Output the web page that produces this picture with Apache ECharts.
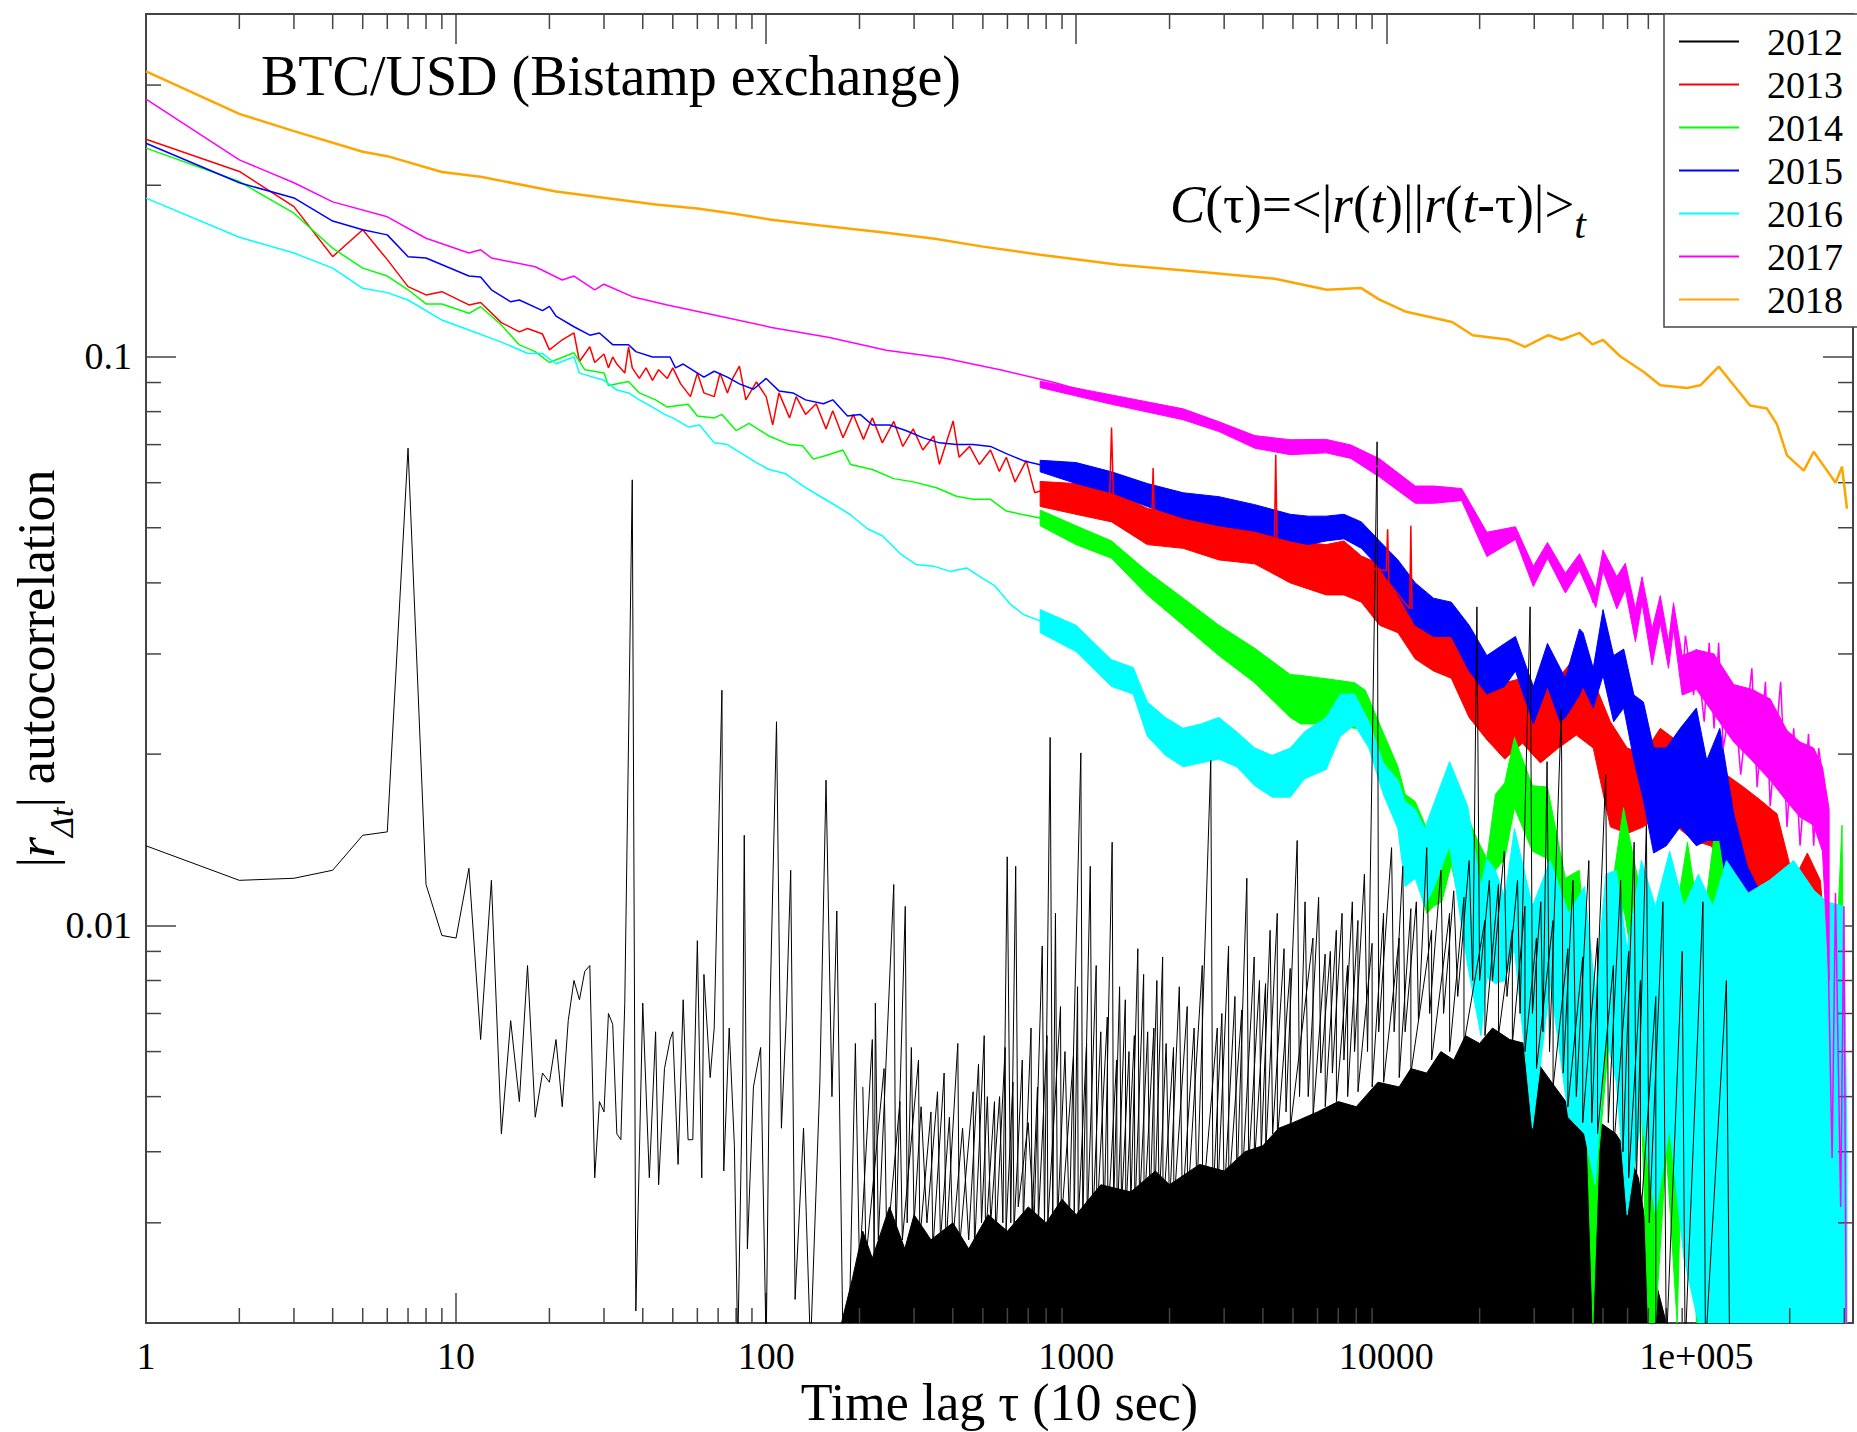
<!DOCTYPE html>
<html>
<head>
<meta charset="utf-8">
<title>BTC/USD |r| autocorrelation</title>
<script src="https://cdn.jsdelivr.net/npm/echarts/dist/echarts.min.js"></script>
<style>
  html, body { margin: 0; padding: 0; background: #fff; }
  #chart { width: 1857px; height: 1432px; }
</style>
</head>
<body>
<div id="chart"></div>
<script>
var FONT = 'Liberation Serif';
var X_MIN = 1, X_MAX = 320000, Y_MIN = 0.002, Y_MAX = 0.4;

var years = ['2012', '2013', '2014', '2015', '2016', '2017', '2018'];
var colors = ['#000000', '#ff0000', '#00ff00', '#0000ff', '#00ffff', '#ff00ff', '#ffa500'];

// minor tick positions (major ticks come from the log axes)
var xMinorTicks = [2, 3, 4, 5, 6, 7, 8, 9, 20, 30, 40, 50, 60, 70, 80, 90,
  200, 300, 400, 500, 600, 700, 800, 900, 2000, 3000, 4000, 5000, 6000, 7000, 8000, 9000,
  20000, 30000, 40000, 50000, 60000, 70000, 80000, 90000, 200000, 300000];
var yMinorTicks = [0.003, 0.004, 0.005, 0.006, 0.007, 0.008, 0.009,
  0.02, 0.03, 0.04, 0.05, 0.06, 0.07, 0.08, 0.09, 0.2, 0.3];

// [tau, C] points
var s2012 = [[1,0.0138],[2,0.012],[3,0.0121],[4,0.0125],[5,0.0144],[6,0.0146],[7,0.069],[8,0.0118],[9,0.0096],[10,0.0095],
  [11,0.0126],[12,0.0063],[13,0.012],[14,0.0043],[15,0.0068],[16,0.0049],[17,0.0085],[18,0.0046],[19,0.0055],[20,0.0053],
  [21,0.0063],[22,0.0048],[23,0.0068],[24,0.008],[25,0.0074],[26,0.0083],[27,0.0085],[28,0.0036],[29,0.0049],[30,0.0047],
  [31,0.007],[32,0.0067],[33,0.0043],[34,0.0042],[35,0.0073],[37,0.0607],[38,0.0021],[40,0.0073],[42,0.0036],[44,0.0065],
  [45,0.0035],[47,0.0056],[49,0.0063],[50,0.0065],[52,0.0038],[54,0.0074],[56,0.0042],[58,0.0042],[60,0.0094],[62,0.0036],
  [63,0.0082],[66,0.0054],[68,0.0066],[72,0.0259],[73,0.0037],[76,0.0066],[79,0.0041],[81,0.0018],[84,0.0055],[85,0.0144],
  [87,0.0027],[91,0.0052],[96,0.0061],[100,0.0018],[103,0.0073],[108,0.0228],[112,0.0044],[116,0.0068],[120,0.0125],[124,0.0022],
  [132,0.0044],[139,0.0018],[149,0.0053],[156,0.018],[163,0.005],[169,0.0106],[177,0.0018],
  [185,0.0019],[194,0.0062],[200,0.0025],[220,0.0063],[223,0.0025],[225,0.0073],[230,0.0028],[258,0.0118],[262,0.0028],[281,0.0108],
  [285,0.003],[294,0.0061],[300,0.003],[316,0.0048],[330,0.003],[357,0.0051],[365,0.0028],[390,0.0046],[400,0.0028],[430,0.0044],
  [450,0.0028],[484,0.0057],[495,0.003],[517,0.005],[530,0.003],[566,0.005],[580,0.003],[599,0.0132],[615,0.003],[638,0.0127],
  [650,0.0032],[700,0.0045],[731,0.003],[777,0.0092],[790,0.003],[824,0.0214],[840,0.003],[857,0.0105],[870,0.003],[920,0.006],
  [950,0.003],[1035,0.0201],[1050,0.003],[1110,0.0127],[1130,0.003],[1200,0.0065],[1230,0.003],[1306,0.014],[1320,0.0032],[1380,0.0078],
  [1400,0.0032],[1480,0.006],[1500,0.0032],[1580,0.0091],[1600,0.0032],[1700,0.0065],[1730,0.0032],[1820,0.008],[1850,0.0032],[1950,0.0062],
  [2000,0.0032],[2150,0.0078],[2200,0.0032],[2400,0.0066],[2450,0.0033],[2716,0.0195],[2760,0.0033],[2950,0.007],[3000,0.0033],[3250,0.0075],
  [3300,0.0035],[3550,0.0121],[3600,0.0038],[3900,0.008],[3950,0.004],[4220,0.0098],[4300,0.0043],[4680,0.0091],[4750,0.0047],[5160,0.0141],
  [5250,0.005],[5470,0.011],[5600,0.005],[6050,0.0112],[6150,0.0055],[6600,0.009],[6700,0.0055],[7200,0.0105],[7300,0.0058],[7770,0.011],
  [7900,0.006],[8500,0.0123],[8700,0.006],[9340,0.0708],[9450,0.0065],[10400,0.0137],[10600,0.0065],[11300,0.0127],[11500,0.0065],[12500,0.011],
  [12700,0.0068],[13500,0.0137],[13800,0.007],[15000,0.0125],[15300,0.007],[16500,0.0115],[17000,0.0075],[18500,0.013],[19000,0.008],[19600,0.0363],
  [20000,0.008],[21500,0.012],[22000,0.008],[24000,0.0135],[24500,0.0075],[26500,0.012],[27000,0.007],[29100,0.0363],[29600,0.007],[31500,0.011],
  [32000,0.0065],[33000,0.0194],[33600,0.006],[36700,0.024],[37200,0.0055],[40000,0.012],[41000,0.005],[45000,0.013],[46000,0.0045],[51000,0.0184],
  [52000,0.0045],[57000,0.012],[58000,0.004],[63000,0.014],[64000,0.0035],[69000,0.015],[70500,0.003],[78000,0.011],[80000,0.0018],[90000,0.009],
  [92000,0.0018],[105000,0.011],[107000,0.0018],[125000,0.008],[128000,0.0018]];

// the many shorter 2012 spikes between the tall ones
var spikes2012 = [[205,0.0052],[210,0.0026],[240,0.0056],[245,0.0027],[270,0.0049],[275,0.0028],[310,0.0058],[313,0.0028],
  [340,0.0047],[345,0.0027],[375,0.0055],[380,0.0027],[415,0.0062],[420,0.0027],[465,0.0051],[470,0.0027],[505,0.0064],[510,0.0028],
  [545,0.0049],[550,0.0028],[590,0.0061],[594,0.0029],[625,0.0053],[630,0.0029],[670,0.0058],[675,0.003],[715,0.0066],[720,0.003],
  [750,0.0052],[755,0.003],[805,0.0064],[810,0.003],[890,0.0072],[895,0.003],[980,0.0059],[985,0.003],[1010,0.0078],[1015,0.003],
  [1080,0.0062],[1085,0.003],[1160,0.0085],[1165,0.003],[1260,0.0069],[1265,0.003],[1350,0.0058],[1355,0.003],[1440,0.0074],[1445,0.0031],
  [1540,0.0064],[1545,0.0031],[1650,0.0082],[1655,0.0031],[1780,0.0066],[1785,0.0031],[1900,0.0088],[1905,0.0031],[2060,0.0061],[2065,0.0032],
  [2280,0.0072],[2285,0.0032],[2550,0.0085],[2555,0.0032],[2850,0.0066],[2855,0.0033],[3100,0.0092],[3105,0.0034],[3420,0.0071],[3425,0.0035],
  [3750,0.0088],[3755,0.0038],[4080,0.0079],[4085,0.004],[4450,0.0105],[4455,0.0042],[4900,0.0084],[4905,0.0044],[5800,0.0095],[5805,0.0046],
  [6350,0.0089],[6355,0.0048],[6900,0.0098],[6905,0.0049],[7500,0.0085],[7505,0.005],[8100,0.0102],[8105,0.0051],[9000,0.0093],[9005,0.0052],
  [9800,0.0105],[9805,0.0053],[11000,0.0095],[11005,0.0054],[12000,0.0107],[12005,0.0055],[14000,0.0098],[14005,0.0058],[16000,0.0105],[16005,0.006],
  [17800,0.0112],[17805,0.0062],[20800,0.0102],[20805,0.0064],[23000,0.0118],[23005,0.0064],[25500,0.0098],[25505,0.0062],[28000,0.0108],[28005,0.006],
  [30500,0.0095],[30505,0.0056],[34500,0.0102],[34505,0.0052],[38500,0.0091],[38505,0.0048],[43000,0.0088],[43005,0.0045],[48000,0.0095],[48005,0.0043],
  [54000,0.0085],[54005,0.004],[60500,0.009],[60505,0.0036],[66000,0.008],[66005,0.003],[74000,0.0075],[74005,0.0018]];

// top of the solid black mass of 2012 (it fills down past the axis)
var mass2012 = [[175,0.0019],[190,0.0024],[205,0.0029],[220,0.0026],[250,0.0032],[280,0.0027],[300,0.0031],[340,0.0028],
  [400,0.003],[450,0.0027],[520,0.0031],[600,0.0029],[700,0.0032],[800,0.003],[900,0.0033],[1000,0.0031],[1200,0.0035],
  [1500,0.0034],[1800,0.0037],[2000,0.0035],[2500,0.0038],[3000,0.0037],[3500,0.004],[4000,0.0041],[4500,0.0044],[5000,0.0045],
  [6000,0.0047],[7000,0.0049],[8000,0.0048],[9400,0.0053],[11000,0.0052],[12000,0.0056],[13500,0.0055],[15000,0.006],[16500,0.0058],
  [18000,0.0064],[20000,0.0062],[22000,0.0066],[25000,0.0063],[28000,0.0062],[31000,0.0057],[35000,0.0052],[39000,0.0048],
  [43000,0.0045],[49000,0.0045],[55000,0.0043],[60000,0.004],[65000,0.0036],[72000,0.0025],[80000,0.0019]];

var s2013 = [[1,0.241],[2,0.2115],[3,0.1834],[4,0.1498],[5,0.167],[6,0.148],[7,0.1327],[8,0.1283],[9,0.13],[11,0.1232],
  [12,0.1244],[14,0.1147],[16,0.1105],[17,0.112],[19,0.1095],[20,0.1027],[22,0.107],[24,0.11],[25,0.098],[27,0.104],
  [28,0.0976],[30,0.101],[31,0.0955],[32,0.0998],[33,0.097],[35,0.0935],[36,0.104],[37,0.0955],[39,0.0915],[41,0.0955],
  [43,0.0908],[45,0.0948],[48,0.0915],[50,0.0955],[53,0.0895],[57,0.085],[60,0.0935],[63,0.0863],[68,0.085],[71,0.0935],
  [75,0.0863],[78,0.0915],[82,0.0962],[86,0.0839],[93,0.0902],[100,0.085],[105,0.0758],[110,0.0863],[119,0.078],[125,0.085],
  [134,0.0791],[145,0.0826],[156,0.0746],[164,0.0803],[177,0.072],[191,0.0791],[206,0.0715],[220,0.078],[237,0.0705],[258,0.0769],
  [276,0.0695],[298,0.0746],[320,0.0685],[347,0.0725],[362,0.0646],[401,0.077],[419,0.0665],[453,0.0695],[487,0.0646],[529,0.0685],
  [565,0.0628],[595,0.0665],[635,0.0602],[690,0.0656],[735,0.0576],[765,0.058],[1280,0.055],[1300,0.075],[1320,0.055],[1750,0.05],
  [1770,0.0637],[1790,0.05],[4350,0.045],[4400,0.0672],[4450,0.045],[10000,0.042],[10100,0.0497],[10200,0.04],[11900,0.036],[12000,0.0504],
  [12100,0.036]];
// [tau, low edge, high edge] of the noisy band
var b2013 = [[765,0.0545,0.0603],[998,0.0528,0.0598],[1300,0.0512,0.058],[1695,0.0467,0.0541],[2213,0.046,0.0524],[2885,0.0439,0.0509],
  [3765,0.0432,0.0497],[4900,0.04,0.0474],[6400,0.0381,0.0467],[7300,0.0381,0.0474],[8310,0.037,0.0446],[9510,0.0337,0.0432],
  [10900,0.0327,0.0406],[12400,0.0294,0.037],[14200,0.028,0.0348],[16200,0.0272,0.0327],[18500,0.0232,0.0298],[21100,0.0212,0.028],
  [24100,0.0196,0.0267],[27500,0.0209,0.0272],[31400,0.0193,0.0255],[35900,0.0205,0.0272],[41000,0.0216,0.0298],[46500,0.0205,0.027],
  [52800,0.0149,0.0228],[59800,0.0145,0.0205],[67500,0.0149,0.02],[76500,0.0157,0.0222],[86700,0.0149,0.0211],[98000,0.0141,0.0195],
  [111000,0.0138,0.0184],[125000,0.013,0.0184],[142000,0.0123,0.0175],[161000,0.0114,0.0166],[182000,0.01,0.0157],[206000,0.0079,0.012],
  [228000,0.0088,0.0134],[251000,0.0059,0.012],[264000,0.0035,0.0088]];

var s2014 = [[1,0.2324],[2,0.203],[3,0.1786],[4,0.155],[5,0.143],[6,0.1385],[7,0.131],[8,0.1237],[9,0.1237],[11,0.1191],
  [12,0.1223],[14,0.1136],[16,0.1048],[18,0.102],[20,0.0976],[24,0.1015],[26,0.0948],[30,0.0935],[31,0.0889],[36,0.0904],
  [39,0.0863],[44,0.0839],[48,0.0815],[56,0.0824],[60,0.0786],[68,0.078],[72,0.0791],[80,0.0741],[88,0.0763],[102,0.0725],
  [119,0.07],[131,0.0697],[142,0.066],[156,0.067],[177,0.0685],[187,0.0646],[220,0.0633],[258,0.061],[298,0.0602],[354,0.0588],
  [411,0.0568],[465,0.0561],[529,0.0561],[595,0.0535],[675,0.0527],[765,0.052]];
var b2014 = [[765,0.0504,0.0537],[998,0.0467,0.0504],[1300,0.0442,0.0474],[1695,0.0381,0.0419],[2213,0.0337,0.0376],[2885,0.0298,0.0337],
  [3765,0.0267,0.0307],[4900,0.0232,0.0276],[5300,0.0226,0.0275],[6850,0.0226,0.027],[7900,0.0222,0.0267],[8560,0.0222,0.0259],
  [9780,0.0185,0.0218],[10900,0.016,0.019],[11500,0.0125,0.017],[12400,0.0128,0.0165],[13500,0.0105,0.0148],[14200,0.0108,0.016],
  [15100,0.011,0.0158],[16200,0.0128,0.0175],[16800,0.0117,0.016],[18500,0.0104,0.0153],[19600,0.0108,0.0142],[21100,0.0089,0.0131],
  [22500,0.0125,0.017],[24100,0.0131,0.0178],[25900,0.0161,0.0214],[29600,0.0135,0.0176],[33100,0.0131,0.0175],[37800,0.0089,0.0121],
  [41900,0.0095,0.0125],[44000,0.005,0.009],[46400,0.0015,0.0045],[48500,0.004,0.008],[52400,0.0064,0.0108],[58200,0.0108,0.0161],
  [64700,0.0076,0.0121],[70000,0.0015,0.0091],[73800,0.0015,0.0064],[80000,0.004,0.009],[86700,0.0015,0.0108],[93600,0.009,0.014],
  [100000,0.0015,0.011],[107000,0.0015,0.0108],[118600,0.0091,0.017],[127000,0.004,0.012],[135000,0.0015,0.0076],[143000,0.0015,0.009],
  [151000,0.0015,0.0108],[165000,0.0015,0.008],[181000,0.0015,0.0091],[200000,0.0015,0.007],[223000,0.0015,0.0076],[240000,0.0015,0.007],
  [255000,0.0015,0.0076],[275000,0.0015,0.0065],[295000,0.0015,0.015],[300000,0.0015,0.005]];

var s2015 = [[1,0.237],[2,0.202],[3,0.19],[4,0.173],[5,0.167],[6,0.1636],[7,0.1498],[8,0.149],[11,0.1385],[12,0.138],
  [13,0.131],[15,0.1248],[16,0.1257],[19,0.1204],[20,0.1225],[21,0.1178],[24,0.1128],[27,0.109],[29,0.11],[32,0.1049],
  [36,0.1049],[38,0.102],[43,0.0998],[49,0.0998],[51,0.0955],[54,0.097],[63,0.092],[68,0.0942],[75,0.092],[82,0.0895],
  [91,0.0876],[100,0.0915],[110,0.087],[122,0.0863],[134,0.0839],[153,0.0826],[164,0.0839],[183,0.0786],[201,0.0791],[220,0.0758],
  [250,0.0758],[282,0.0741],[320,0.072],[362,0.0705],[411,0.07],[465,0.07],[529,0.0695],[595,0.0675],[675,0.0656],[765,0.0645]];
var b2015 = [[765,0.0627,0.0657],[998,0.0598,0.0651],[1300,0.0576,0.0627],[1695,0.0545,0.0598],[2213,0.052,0.0576],[2885,0.0504,0.0567],
  [3765,0.0493,0.0549],[4900,0.0474,0.0528],[5600,0.0467,0.0524],[6400,0.0474,0.0524],[7300,0.0478,0.0528],[8310,0.046,0.0512],
  [9510,0.0425,0.0474],[10900,0.0381,0.0439],[12400,0.0337,0.04],[14200,0.0322,0.0376],[16200,0.0322,0.037],[18500,0.028,0.0337],
  [21100,0.0255,0.0298],[24100,0.0263,0.0313],[26100,0.028,0.0322],[29800,0.0226,0.0263],[33100,0.0263,0.0313],[36400,0.0228,0.0283],
  [37800,0.0232,0.0272],[42000,0.0254,0.0332],[43100,0.0263,0.0327],[46500,0.0241,0.0283],[50000,0.0275,0.0359],[54100,0.0228,0.0298],
  [58300,0.0241,0.0306],[62900,0.0195,0.0254],[67500,0.0166,0.0247],[72800,0.0134,0.0205],[80000,0.0138,0.0205],[88700,0.0149,0.0222],
  [100000,0.0138,0.0241],[108000,0.0141,0.0195],[119000,0.0141,0.0222],[132000,0.0097,0.0157],[146000,0.0088,0.0127],[161000,0.0067,0.0114],
  [178000,0.0051,0.01],[196000,0.0015,0.0077],[216000,0.0015,0.0051],[235000,0.0015,0.003]];

var s2016 = [[1,0.1898],[2,0.162],[3,0.152],[4,0.143],[5,0.1318],[6,0.1295],[7,0.1257],[9,0.1159],[11,0.1113],[14,0.106],
  [17,0.1013],[19,0.1012],[21,0.0971],[24,0.0998],[25,0.0935],[30,0.0908],[33,0.0873],[36,0.0863],[39,0.0839],[43,0.0815],
  [47,0.0791],[50,0.078],[56,0.0752],[61,0.0758],[68,0.0705],[75,0.07],[82,0.0679],[93,0.0651],[102,0.0633],[115,0.0623],
  [131,0.0593],[149,0.0568],[164,0.0551],[187,0.0527],[212,0.0498],[237,0.0484],[271,0.045],[304,0.0431],[347,0.0428],[392,0.0419],
  [443,0.0425],[500,0.0407],[547,0.0395],[613,0.0367],[675,0.0352],[765,0.0343]];
var b2016 = [[765,0.0327,0.0359],[998,0.0303,0.0337],[1300,0.0263,0.0293],[1527,0.0255,0.0284],[1695,0.0215,0.0247],[1940,0.0199,0.0232],
  [2213,0.019,0.0222],[2525,0.0193,0.0226],[2885,0.0196,0.0232],[3290,0.019,0.0219],[3765,0.0176,0.0205],[4290,0.0168,0.0199],
  [4900,0.0168,0.0205],[5450,0.0181,0.0219],[6400,0.0188,0.0232],[7110,0.0215,0.0255],[7900,0.0225,0.0255],[8790,0.0205,0.0228],
  [9780,0.017,0.0193],[10900,0.0148,0.018],[11500,0.0117,0.0165],[12400,0.0121,0.016],[13300,0.0108,0.0148],[14200,0.0116,0.0163],
  [16000,0.0138,0.0194],[18300,0.0085,0.0162],[20200,0.0064,0.0117],[21100,0.0081,0.0131],[22500,0.0079,0.0125],[24100,0.008,0.0112],
  [25900,0.0091,0.0148],[29600,0.0044,0.0108],[33800,0.0079,0.013],[38700,0.0046,0.0105],[43600,0.0043,0.0117],[47200,0.0035,0.0076],
  [51100,0.0064,0.0123],[55200,0.0053,0.0125],[59800,0.0031,0.0091],[66500,0.0046,0.013],[73800,0.0031,0.0108],[82000,0.0044,0.0135],
  [91200,0.0026,0.0108],[101500,0.0015,0.0123],[113000,0.0015,0.0108],[125000,0.0015,0.013],[147000,0.0015,0.0114],[172000,0.0015,0.012],
  [206000,0.0015,0.013],[240000,0.0015,0.0115],[264000,0.0015,0.011],[299000,0.0015,0.0108],[306000,0.0015,0.004]];

var s2017 = [[1,0.2835],[2,0.2216],[3,0.202],[4,0.187],[6,0.176],[8,0.1614],[11,0.152],[12,0.154],[13,0.149],[18,0.1438],
  [22,0.1363],[24,0.1385],[28,0.1309],[30,0.134],[37,0.1274],[48,0.1232],[68,0.1183],[104,0.1125],[160,0.108],[244,0.1026],
  [374,0.0994],[573,0.0947],[850,0.09],[1300,0.0842],[2210,0.0797],[2890,0.0755],[3760,0.0709],[4900,0.0699],[6400,0.0704],[7690,0.0683],
  [9510,0.0637],[12400,0.0571],[14200,0.0576],[17500,0.0562],[21100,0.046],[26100,0.0489],[29800,0.0406],[33100,0.046],[37800,0.04],[42000,0.0446],
  [46500,0.0369],[50000,0.0439],[55400,0.038],[59000,0.0416],[63600,0.034],[66800,0.0394],[72000,0.0306],[76500,0.0367],[81300,0.0298],[84400,0.0359],
  [90000,0.0268],[92200,0.0323],[98000,0.0254],[100000,0.0306],[106000,0.0228],[110000,0.0314],[114000,0.0222],[118000,0.0314],[122000,0.0205],[132000,0.0261],
  [139000,0.0184],[151000,0.0283],[157000,0.0175],[167000,0.0268],[173000,0.0162],[187000,0.0268],[196000,0.0149],[206000,0.0222],[216000,0.0138],[230000,0.0217],
  [239000,0.0138],[248000,0.0205],[260000,0.017],[274000,0.0039],[281000,0.0114],[292000,0.0032],[299000,0.0108],[305000,0.0015]];
var b2017 = [[765,0.0882,0.0905],[1300,0.0824,0.0856],[2213,0.0774,0.0809],[2885,0.0738,0.0768],[3765,0.069,0.0726],[4900,0.0672,0.0714],
  [6400,0.0677,0.0715],[7690,0.0662,0.0699],[9510,0.0614,0.0661],[12400,0.0552,0.0592],[14200,0.0552,0.0592],[17500,0.0558,0.0586],
  [21100,0.0445,0.0491],[26100,0.0477,0.0502],[29800,0.0394,0.0428],[33100,0.0442,0.0471],[37800,0.0384,0.0416],[42000,0.0421,0.045],
  [47400,0.0362,0.039],[50000,0.042,0.0457],[55400,0.036,0.041],[59000,0.0389,0.0433],[63600,0.0315,0.036],[66800,0.0369,0.041],
  [72000,0.0287,0.0332],[76500,0.034,0.038],[81300,0.0283,0.0315],[84400,0.0332,0.0369],[90000,0.0254,0.0298],[100000,0.026,0.0305],
  [114000,0.0235,0.03],[132000,0.021,0.0265],[151000,0.0195,0.026],[173000,0.018,0.025],[196000,0.0165,0.022],[216000,0.0155,0.021],
  [239000,0.015,0.0205],[255000,0.0135,0.019],[268000,0.008,0.016]];

var s2018 = [[1,0.317],[2,0.267],[3,0.249],[5,0.229],[6,0.225],[9,0.211],[12,0.207],[21,0.195],[44,0.185],[60,0.182],
  [80,0.178],[104,0.174],[150,0.17],[244,0.165],[350,0.161],[500,0.156],[765,0.151],[1370,0.145],[2440,0.141],[4370,0.137],
  [6430,0.131],[8280,0.132],[9470,0.126],[11500,0.12],[16300,0.115],[19000,0.109],[24900,0.107],[28000,0.104],[33300,0.109],[36700,0.107],
  [42000,0.11],[46200,0.105],[50000,0.107],[56900,0.1],[67500,0.094],[76500,0.089],[93300,0.088],[103000,0.089],[118000,0.096],[132000,0.089],
  [149000,0.082],[169000,0.081],[182000,0.076],[196000,0.067],[222000,0.063],[239000,0.068],[264000,0.063],[281000,0.06],[295000,0.064],[306000,0.054]];

var lineData = [s2012, s2013, s2014, s2015, s2016, s2017, s2018];
var bandData = [
  mass2012.map(function (p) { return [p[0], Y_MIN, p[1]]; }),
  b2013, b2014, b2015, b2016, b2017, null
];

function clampY(v) { return Math.min(Y_MAX, Math.max(Y_MIN, v)); }

// filled polygon between the low and high edges of a band
function bandRenderer(pts, color) {
  return function (params, api) {
    if (params.dataIndex !== 0) return null;
    var poly = [];
    for (var i = 0; i < pts.length; i++) poly.push(api.coord([pts[i][0], clampY(pts[i][2])]));
    for (var j = pts.length - 1; j >= 0; j--) poly.push(api.coord([pts[j][0], clampY(pts[j][1])]));
    return { type: 'polygon', shape: { points: poly }, style: { fill: color, stroke: color, lineWidth: 1 } };
  };
}

// short inward minor ticks on all four sides of the frame
function minorTicks(params, api) {
  if (params.dataIndex !== 0) return null;
  var st = { stroke: '#444', lineWidth: 1.5 };
  var kids = [];
  xMinorTicks.forEach(function (t) {
    var b = api.coord([t, Y_MIN]), u = api.coord([t, Y_MAX]);
    kids.push({ type: 'line', shape: { x1: b[0], y1: b[1], x2: b[0], y2: b[1] - 15 }, style: st });
    kids.push({ type: 'line', shape: { x1: u[0], y1: u[1], x2: u[0], y2: u[1] + 15 }, style: st });
  });
  yMinorTicks.forEach(function (v) {
    var l = api.coord([X_MIN, v]), r = api.coord([X_MAX, v]);
    kids.push({ type: 'line', shape: { x1: l[0], y1: l[1], x2: l[0] + 15, y2: l[1] }, style: st });
    kids.push({ type: 'line', shape: { x1: r[0], y1: r[1], x2: r[0] - 15, y2: r[1] }, style: st });
  });
  return { type: 'group', children: kids };
}

function isDecade(v) {
  var e = Math.log10(v);
  return Math.abs(e - Math.round(e)) < 1e-6;
}

var series = [];
years.forEach(function (y, k) {
  series.push({
    name: y, type: 'line', data: lineData[k], color: colors[k],
    showSymbol: false, symbol: 'none', silent: true,
    lineStyle: { width: k === 0 ? 1 : (k === 6 ? 2.5 : 1.5), color: colors[k] }
  });
  if (k === 0) {
    series.push({
      name: y, type: 'line', data: spikes2012, color: colors[0],
      showSymbol: false, symbol: 'none', silent: true, lineStyle: { width: 1, color: colors[0] }
    });
  }
  if (bandData[k]) {
    series.push({
      name: y, type: 'custom', data: bandData[k], color: colors[k],
      encode: { x: 0, y: [1, 2] }, clip: true, silent: true,
      renderItem: bandRenderer(bandData[k], colors[k])
    });
  }
});
series.push({
  type: 'custom', data: [[X_MIN, Y_MIN]], encode: { x: 0, y: 1 },
  silent: true, z: 3, renderItem: minorTicks
});

var axisLine = { show: true, onZero: false, lineStyle: { color: '#444', width: 2 } };
var axisTick = { show: true, inside: true, length: 30, lineStyle: { color: '#444', width: 1.5 } };

var chart = echarts.init(document.getElementById('chart'), null, { renderer: 'svg' });
chart.setOption({
  animation: false,
  backgroundColor: '#fff',
  title: [{
    text: 'BTC/USD (Bistamp exchange)',
    left: 261, top: 48, padding: 0,
    textStyle: { fontFamily: FONT, fontSize: 56, fontWeight: 'normal', color: '#000' }
  }, {
    text: '{i|C}{n|(τ)=<|}{i|r}{n|(}{i|t}{n|)||}{i|r}{n|(}{i|t}{n|-τ)|>}{s|t}',
    left: 1170, top: 174, padding: 0,
    textStyle: {
      fontWeight: 'normal',
      rich: {
        n: { fontFamily: FONT, fontSize: 53, fontWeight: 'normal', color: '#000', lineHeight: 60 },
        i: { fontFamily: FONT, fontSize: 53, fontWeight: 'normal', fontStyle: 'italic', color: '#000', lineHeight: 60 },
        s: { fontFamily: FONT, fontSize: 42, fontWeight: 'normal', fontStyle: 'italic', color: '#000', lineHeight: 60, padding: [40, 0, 0, 0] }
      }
    }
  }],
  legend: {
    data: years, orient: 'vertical', left: 1664, top: 14, z: 6,
    padding: [6, 40, 6, 15], itemGap: 0, itemWidth: 60, itemHeight: 2, icon: 'rect',
    backgroundColor: '#fff', borderColor: '#444', borderWidth: 1.5, borderRadius: 0,
    selectedMode: false,
    textStyle: { fontFamily: FONT, fontSize: 38, color: '#000', lineHeight: 43, padding: [0, 0, 0, 23] }
  },
  grid: { left: 146, right: 4, top: 14, bottom: 109, containLabel: false, outerBoundsMode: 'none' },
  xAxis: [{
    type: 'log', logBase: 10, min: X_MIN, max: X_MAX, position: 'bottom',
    name: 'Time lag τ (10 sec)', nameLocation: 'middle', nameGap: 52, nameMoveOverlap: false,
    nameTextStyle: { fontFamily: FONT, fontSize: 52, color: '#000', lineHeight: 54 },
    axisLine: axisLine, axisTick: axisTick, splitLine: { show: false },
    axisLabel: {
      fontFamily: FONT, fontSize: 38, color: '#000', margin: 14,
      formatter: function (v) { return isDecade(v) ? (v >= 1e5 ? '1e+005' : String(Math.round(v))) : ''; }
    }
  }, {
    type: 'log', logBase: 10, min: X_MIN, max: X_MAX, position: 'top',
    axisLine: axisLine, axisTick: axisTick, axisLabel: { show: false }, splitLine: { show: false }
  }],
  yAxis: [{
    type: 'log', logBase: 10, min: Y_MIN, max: Y_MAX, position: 'left',
    name: '{n||}{i|r}{s|Δt}{n|| autocorrelation}', nameLocation: 'middle', nameGap: 84,
    nameMoveOverlap: false,
    nameTextStyle: {
      rich: {
        n: { fontFamily: FONT, fontSize: 52, color: '#000', lineHeight: 52, verticalAlign: 'top' },
        i: { fontFamily: FONT, fontSize: 52, fontStyle: 'italic', color: '#000', lineHeight: 52, verticalAlign: 'top' },
        s: { fontFamily: FONT, fontSize: 34, fontStyle: 'italic', color: '#000', lineHeight: 34, verticalAlign: 'top', padding: [34, 0, 0, 0] }
      }
    },
    axisLine: axisLine, axisTick: axisTick, splitLine: { show: false },
    axisLabel: {
      fontFamily: FONT, fontSize: 38, color: '#000', margin: 14,
      formatter: function (v) { return isDecade(v) ? String(parseFloat(v.toPrecision(6))) : ''; }
    }
  }, {
    type: 'log', logBase: 10, min: Y_MIN, max: Y_MAX, position: 'right',
    axisLine: axisLine, axisTick: axisTick, axisLabel: { show: false }, splitLine: { show: false }
  }],
  series: series
});
</script>
</body>
</html>
